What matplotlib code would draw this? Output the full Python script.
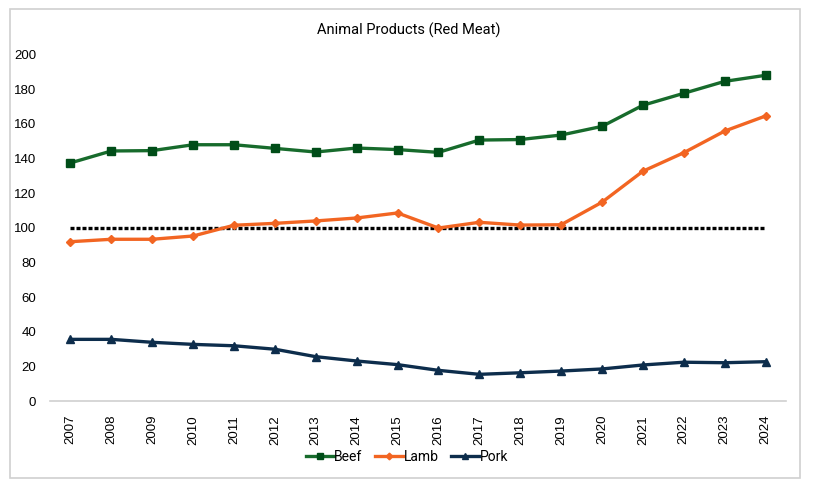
import matplotlib
matplotlib.use("Agg")
import matplotlib.pyplot as plt
from matplotlib.patches import Rectangle

years = [str(y) for y in range(2007, 2025)]
beef = [137.5, 144.4, 144.6, 148.0, 148.0, 145.9, 143.8, 146.1, 145.2, 143.6,
        150.7, 151.0, 153.6, 158.6, 170.8, 177.7, 184.6, 188.1]
lamb = [92.0, 93.4, 93.4, 95.3, 101.5, 102.6, 104.0, 105.7, 108.6, 99.9,
        103.2, 101.6, 101.8, 114.8, 132.7, 143.4, 155.9, 164.6]
pork = [35.6, 35.6, 33.9, 32.7, 31.9, 29.9, 25.6, 23.1, 21.0, 17.7,
        15.4, 16.3, 17.3, 18.5, 20.8, 22.4, 22.1, 22.7]
baseline = [100] * len(years)

plt.rcParams['font.family'] = ['Liberation Sans', 'DejaVu Sans']
narrow = ['Roboto', 'Liberation Sans', 'DejaVu Sans']

fig = plt.figure(figsize=(8.18, 4.8), dpi=100)
fig.patches.append(Rectangle((10/818, 1-478/480), 790/818, 469/480, transform=fig.transFigure,
                             fill=False, edgecolor='#d0d0d0', linewidth=1.2))
ax = fig.add_axes([50/818, 1-401/480, 736/818, (401-54.7)/480])

x = list(range(len(years)))
ax.plot(x, baseline, color='black', linestyle=(0, (1.2, 0.6)), linewidth=2.4, zorder=2)
ax.plot(x, beef, color='#176b2c', linewidth=2.4, marker='s', markersize=5.5,
        markerfacecolor='#004d18', markeredgecolor='#004d18', label='Beef', zorder=3)
ax.plot(x, lamb, color='#f26522', linewidth=2.4, marker='D', markersize=4,
        markerfacecolor='#f26522', markeredgecolor='#f26522', label='Lamb', zorder=3)
ax.plot(x, pork, color='#0d2d4c', linewidth=2.4, marker='^', markersize=5.8,
        markerfacecolor='#0d2d4c', markeredgecolor='#0d2d4c', label='Pork', zorder=3)

ax.set_xlim(-0.5, len(years) - 0.5)
ax.set_ylim(0, 200)
ax.set_yticks(range(0, 201, 20))
ax.set_xticks(x)
ax.set_xticklabels(years, rotation=90, fontsize=9.5)
ax.tick_params(axis='y', length=0, pad=10, labelsize=9.5)
ax.tick_params(axis='x', length=0, pad=10)
for s in ['top', 'right', 'left']:
    ax.spines[s].set_visible(False)
ax.spines['bottom'].set_color('#d0d0d0')
ax.spines['bottom'].set_linewidth(1.2)

fig.text(0.5, 1-30/480, 'Animal Products (Red Meat)', ha='center', va='center',
         fontsize=10.5, family=narrow)

leg = fig.legend(loc='center', bbox_to_anchor=(407/818, 1-457/480), ncol=3, frameon=False,
                 prop={'family': narrow, 'size': 10}, handlelength=2.0,
                 handletextpad=0.05, columnspacing=0.9, markerscale=0.85)

fig.savefig('out.png', dpi=100)
